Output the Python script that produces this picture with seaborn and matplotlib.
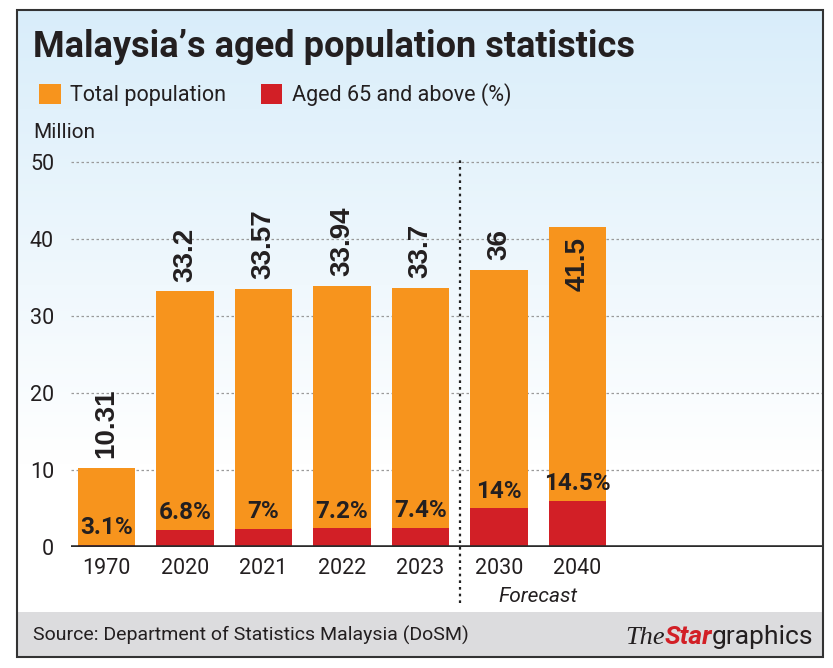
import numpy as np
import matplotlib
matplotlib.use("Agg")
import matplotlib.pyplot as plt
import seaborn as sns
from matplotlib.patches import Rectangle, Patch

# Data
years = ['1970', '2020', '2021', '2022', '2023', '2030', '2040']
total_pop = [10.31, 33.2, 33.57, 33.94, 33.7, 36, 41.5]
aged_million = [0.32, 2.26, 2.35, 2.44, 2.49, 5.04, 6.02]
aged_pct = [3.1, 6.8, 7, 7.2, 7.4, 14, 14.5]
y_ticks = [0, 10, 20, 30, 40, 50]

ORANGE = '#F7941D'
RED = '#D21F26'
TXT = '#231F20'

sns.set_theme(style='white')
plt.rcParams['font.family'] = ['Roboto', 'DejaVu Sans']

W, H = 833, 668
fig = plt.figure(figsize=(W / 100, H / 100), dpi=100)
fig.patch.set_facecolor('white')

def fx(px):
    return px / W

def fy(py):
    return 1 - py / H

# Background: light blue gradient inside the frame
bg = fig.add_axes([fx(17), fy(657), fx(823) - fx(17), fy(10) - fy(657)])
grad = np.linspace(0, 1, 256)[:, None]
top = np.array([0.85, 0.93, 0.98])
bottom = np.array([1.0, 1.0, 1.0])
mix = np.clip(grad / 0.7, 0, 1)
img = top[None, None, :] * (1 - mix[..., None]) + bottom[None, None, :] * mix[..., None]
bg.imshow(img, aspect='auto', extent=[0, 1, 0, 1])
bg.set_xlim(0, 1)
bg.set_ylim(0, 1)
bg.axis('off')
bg.set_zorder(0)

# Footer band and frame
fig.patches.append(Rectangle((fx(17), fy(657)), fx(823) - fx(17), fy(612) - fy(657),
                             transform=fig.transFigure, facecolor='#DCDCDE',
                             edgecolor='none', zorder=1))
fig.patches.append(Rectangle((fx(17), fy(657)), fx(823) - fx(17), fy(10) - fy(657),
                             transform=fig.transFigure, facecolor='none',
                             edgecolor='#333333', linewidth=1.5, zorder=5))

# Main axes
y0_px, ppu = 547, 7.7
ytop = 50.3
ax = fig.add_axes([fx(70.7), fy(y0_px), fx(823) - fx(70.7), (ytop * ppu) / H])
ax.set_facecolor('none')
ax.set_zorder(2)

sns.barplot(x=years, y=total_pop, color=ORANGE, saturation=1, width=0.73, ax=ax,
            linewidth=0, edgecolor='none', zorder=3)
sns.barplot(x=years, y=aged_million, color=RED, saturation=1, width=0.73, ax=ax,
            linewidth=0, edgecolor='none', zorder=4)

ax.set_xlim(-0.456, 9.13)
ax.set_ylim(0, ytop)
ax.set_yticks(y_ticks)
ax.set_xlabel('')
ax.set_ylabel('')
for s in ax.spines.values():
    s.set_visible(False)
ax.yaxis.grid(True, linestyle=(0, (2, 2)), color='#9A9A9A', linewidth=0.9)
ax.xaxis.grid(False)
ax.set_axisbelow(True)
ax.axhline(0, color='#2B2B2B', linewidth=2.6, zorder=5)
ax.tick_params(axis='y', length=0, pad=12, labelsize=15.5, labelcolor=TXT)
ax.tick_params(axis='x', length=0, pad=8, labelsize=15.5, labelcolor=TXT)

# Total population labels (rotated)
for i, v in enumerate(total_pop):
    if i == len(total_pop) - 1:
        ax.annotate(f'{v:g}', (i, v), xytext=(0, -7), textcoords='offset points',
                    rotation=90, ha='center', va='top', fontsize=20, fontweight='bold',
                    family='Liberation Sans', color=TXT, zorder=6)
    else:
        ax.annotate(f'{v:g}', (i, v), xytext=(0, 7), textcoords='offset points',
                    rotation=90, ha='center', va='bottom', fontsize=20, fontweight='bold',
                    family='Liberation Sans', color=TXT, zorder=6)

# Aged 65+ percentage labels
for i, (h, p) in enumerate(zip(aged_million, aged_pct)):
    ax.annotate(f'{p:g}%', (i, h), xytext=(0, 4), textcoords='offset points',
                ha='center', va='bottom', fontsize=17.5, fontweight='bold',
                color=TXT, zorder=6)

# Forecast divider
ymin_frac = (y0_px - 603) / (ytop * ppu)
ax.axvline(4.5, ymin=ymin_frac, ymax=1.0, clip_on=False, color='#222222',
           linestyle=(0, (1.2, 1.8)), linewidth=1.6, zorder=6)
ax.annotate('Forecast', xy=(5.5, (y0_px - 597) / (ytop * ppu)),
            xycoords=('data', 'axes fraction'), ha='center', va='center',
            fontsize=15, fontstyle='italic', color=TXT, annotation_clip=False)

# Title, legend, unit
fig.text(fx(33), fy(47), 'Malaysia\u2019s aged population statistics', ha='left', va='center',
         fontsize=26, fontweight='bold', color=TXT, zorder=6)
handles = [Patch(facecolor=ORANGE, edgecolor='none'), Patch(facecolor=RED, edgecolor='none')]
fig.legend(handles, ['Total population', 'Aged 65 and above (%)'], loc='center left',
           bbox_to_anchor=(fx(39), fy(95)), ncol=2, frameon=False, fontsize=15.5,
           handlelength=1.0, handleheight=1.0, handletextpad=0.45, columnspacing=1.6,
           borderaxespad=0, borderpad=0, labelcolor=TXT)
fig.text(fx(33), fy(133), 'Million', ha='left', va='center', fontsize=15, color=TXT)

# Footer
fig.text(fx(33), fy(635), 'Source: Department of Statistics Malaysia (DoSM)', ha='left',
         va='center', fontsize=14, color=TXT, zorder=6)
t1 = fig.text(fx(625), fy(649), 'The', ha='left', va='bottom', fontsize=19,
              fontstyle='italic', family='Liberation Serif', color=TXT, zorder=6)
t2 = ax.annotate('Star', xy=(1, 0), xycoords=t1, ha='left', va='bottom', fontsize=19,
                 fontweight='bold', fontstyle='italic', color=RED, annotation_clip=False)
ax.annotate('graphics', xy=(1, 0), xycoords=t2, ha='left', va='bottom', fontsize=19,
            color=TXT, annotation_clip=False)

fig.savefig('out.png', dpi=100)
